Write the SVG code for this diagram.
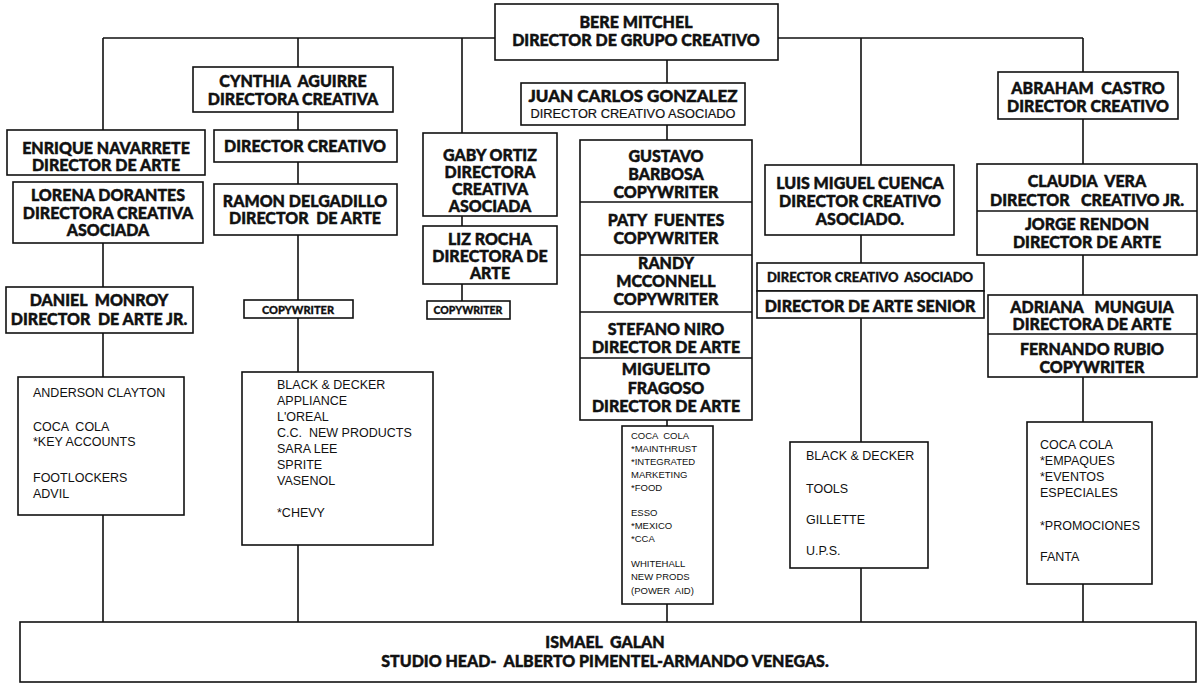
<svg xmlns="http://www.w3.org/2000/svg" width="1200" height="686" viewBox="0 0 1200 686" xml:space="preserve">
<style>
.b{fill:#fff;stroke:#111;stroke-width:1.6}
.c{fill:none;stroke:#111;stroke-width:1.6}
.t{font-family:Lato,"Open Sans","Liberation Sans",sans-serif;font-weight:900;font-size:16px;fill:#111;stroke:#111;stroke-width:0.45;text-anchor:middle;dominant-baseline:central;white-space:pre}
.s{font-size:13px}
.n{font-family:"Liberation Sans",Arial,sans-serif;font-size:12.5px;fill:#111;dominant-baseline:central;white-space:pre}
.m{font-size:9.5px}
.cond{font-family:"Liberation Sans",Arial,sans-serif;font-weight:normal;font-size:13px;stroke-width:0.2}
</style>
<rect x="0" y="0" width="1200" height="686" fill="#fff"/>
<g id="connectors">
<path class="c" d="M103,38H495M778,38H1083M103,38V130M298,38V67M462,38V133M861,38V165M1083,38V72"/>
<path class="c" d="M667,60V83M667,125V140M667,420V426M667,604V622"/>
<path class="c" d="M103,243V287M103,333V377M103,515V622"/>
<path class="c" d="M298,112V130M298,162V184M298,235V300M298,318V372M298,545V622"/>
<path class="c" d="M462,216V226M462,284V301"/>
<path class="c" d="M861,235V263M861,318V442M861,568V622"/>
<path class="c" d="M1083,119V164M1083,255V295M1083,377V422M1083,584V622"/>
</g>
<g id="bere"><rect class="b" x="495" y="4" width="283" height="56"/>
<text class="t" x="636" y="21" font-size="14">BERE MITCHEL</text><text class="t" x="636" y="39">DIRECTOR DE GRUPO CREATIVO</text></g>
<g id="juan"><rect class="b" x="521" y="83" width="224" height="42"/>
<text class="t" x="633" y="95" style="font-size:17px">JUAN CARLOS GONZALEZ</text><text class="t cond" x="633" y="113" textLength="205" lengthAdjust="spacingAndGlyphs">DIRECTOR CREATIVO ASOCIADO</text></g>
<g id="cynthia"><rect class="b" x="193" y="67" width="200" height="45"/>
<text class="t" x="293" y="80">CYNTHIA  AGUIRRE</text><text class="t" x="293" y="98">DIRECTORA CREATIVA</text></g>
<g id="enrique"><rect class="b" x="7" y="130" width="198" height="45"/>
<text class="t" x="106" y="147">ENRIQUE NAVARRETE</text><text class="t" x="106" y="164">DIRECTOR DE ARTE</text></g>
<g id="lorena"><rect class="b" x="13" y="182" width="190" height="61"/>
<text class="t" x="108" y="194">LORENA DORANTES</text><text class="t" x="108" y="212">DIRECTORA CREATIVA</text><text class="t" x="108" y="229">ASOCIADA</text></g>
<g id="daniel"><rect class="b" x="6" y="287" width="187" height="46"/>
<text class="t" x="99" y="299">DANIEL  MONROY</text><text class="t" x="99" y="318">DIRECTOR  DE ARTE JR.</text></g>
<g id="acc1"><rect class="b" x="18" y="377" width="166" height="138"/>
<text class="n" x="33" y="393">ANDERSON CLAYTON</text><text class="n" x="33" y="427">COCA  COLA</text><text class="n" x="33" y="442">*KEY ACCOUNTS</text><text class="n" x="33" y="478">FOOTLOCKERS</text><text class="n" x="33" y="494">ADVIL</text></g>
<g id="dircreativo"><rect class="b" x="214" y="130" width="183" height="32"/>
<text class="t" x="305" y="145">DIRECTOR CREATIVO</text></g>
<g id="ramon"><rect class="b" x="214" y="184" width="183" height="51"/>
<text class="t" x="305" y="200">RAMON DELGADILLO</text><text class="t" x="305" y="217">DIRECTOR  DE ARTE</text></g>
<g id="copy2"><rect class="b" x="244" y="300" width="109" height="18"/>
<text class="t" x="298" y="309" style="font-size:11px;stroke-width:0.3">COPYWRITER</text></g>
<g id="acc2"><rect class="b" x="242" y="372" width="191" height="173"/>
<text class="n" x="277" y="385">BLACK &amp; DECKER</text><text class="n" x="277" y="401">APPLIANCE</text><text class="n" x="277" y="417">L'OREAL</text><text class="n" x="277" y="433">C.C.  NEW PRODUCTS</text><text class="n" x="277" y="449">SARA LEE</text><text class="n" x="277" y="465">SPRITE</text><text class="n" x="277" y="481">VASENOL</text><text class="n" x="277" y="513">*CHEVY</text></g>
<g id="gaby"><rect class="b" x="423" y="133" width="134" height="83"/>
<text class="t" x="490" y="154">GABY ORTIZ</text><text class="t" x="490" y="171">DIRECTORA</text><text class="t" x="490" y="188">CREATIVA</text><text class="t" x="490" y="205">ASOCIADA</text></g>
<g id="liz"><rect class="b" x="423" y="226" width="134" height="58"/>
<text class="t" x="490" y="238">LIZ ROCHA</text><text class="t" x="490" y="255">DIRECTORA DE</text><text class="t" x="490" y="272">ARTE</text></g>
<g id="copy3"><rect class="b" x="427" y="301" width="83" height="18"/>
<text class="t" x="468" y="310" style="font-size:10.5px;stroke-width:0.3">COPYWRITER</text></g>
<g id="stack"><rect class="b" x="580" y="140" width="172" height="280"/>
<path class="c" d="M580,202H752M580,255H752M580,312H752M580,358H752"/>
<text class="t" x="666" y="155">GUSTAVO</text><text class="t" x="666" y="173">BARBOSA</text><text class="t" x="666" y="191">COPYWRITER</text>
<text class="t" x="666" y="219">PATY  FUENTES</text><text class="t" x="666" y="237">COPYWRITER</text>
<text class="t" x="666" y="262">RANDY</text><text class="t" x="666" y="280">MCCONNELL</text><text class="t" x="666" y="298">COPYWRITER</text>
<text class="t" x="666" y="328">STEFANO NIRO</text><text class="t" x="666" y="346">DIRECTOR DE ARTE</text>
<text class="t" x="666" y="368">MIGUELITO</text><text class="t" x="666" y="387">FRAGOSO</text><text class="t" x="666" y="405">DIRECTOR DE ARTE</text></g>
<g id="acc4"><rect class="b" x="622" y="426" width="91" height="178"/>
<text class="n m" x="631" y="435">COCA  COLA</text><text class="n m" x="631" y="448">*MAINTHRUST</text><text class="n m" x="631" y="461">*INTEGRATED</text><text class="n m" x="631" y="474">MARKETING</text><text class="n m" x="631" y="487">*FOOD</text>
<text class="n m" x="631" y="512">ESSO</text><text class="n m" x="631" y="525">*MEXICO</text><text class="n m" x="631" y="538">*CCA</text>
<text class="n m" x="631" y="563">WHITEHALL</text><text class="n m" x="631" y="576">NEW PRODS</text><text class="n m" x="631" y="590">(POWER  AID)</text></g>
<g id="luis"><rect class="b" x="765" y="165" width="189" height="70"/>
<text class="t" x="860" y="182">LUIS MIGUEL CUENCA</text><text class="t" x="860" y="200">DIRECTOR CREATIVO</text><text class="t" x="860" y="218">ASOCIADO.</text></g>
<g id="dca"><rect class="b" x="757" y="263" width="227" height="28"/>
<text class="t s" x="870" y="277" style="stroke-width:0.35">DIRECTOR CREATIVO  ASOCIADO</text></g>
<g id="das"><rect class="b" x="757" y="291" width="227" height="27"/>
<text class="t" x="870" y="305">DIRECTOR DE ARTE SENIOR</text></g>
<g id="acc5"><rect class="b" x="790" y="442" width="138" height="126"/>
<text class="n" x="806" y="456">BLACK &amp; DECKER</text><text class="n" x="806" y="489">TOOLS</text><text class="n" x="806" y="520">GILLETTE</text><text class="n" x="806" y="551">U.P.S.</text></g>
<g id="abraham"><rect class="b" x="998" y="72" width="180" height="47"/>
<text class="t" x="1088" y="87">ABRAHAM  CASTRO</text><text class="t" x="1088" y="105">DIRECTOR CREATIVO</text></g>
<g id="claudia"><rect class="b" x="977" y="164" width="220" height="91"/>
<path class="c" d="M977,211H1197"/>
<text class="t" x="1087" y="180">CLAUDIA  VERA</text><text class="t" x="1087" y="199">DIRECTOR   CREATIVO JR.</text>
<text class="t" x="1087" y="223">JORGE RENDON</text><text class="t" x="1087" y="241">DIRECTOR DE ARTE</text></g>
<g id="adriana"><rect class="b" x="988" y="295" width="209" height="82"/>
<path class="c" d="M988,334H1197"/>
<text class="t" x="1092" y="306">ADRIANA   MUNGUIA</text><text class="t" x="1092" y="323">DIRECTORA DE ARTE</text>
<text class="t" x="1092" y="348">FERNANDO RUBIO</text><text class="t" x="1092" y="366">COPYWRITER</text></g>
<g id="acc6"><rect class="b" x="1027" y="422" width="125" height="162"/>
<text class="n" x="1040" y="445">COCA COLA</text><text class="n" x="1040" y="461">*EMPAQUES</text><text class="n" x="1040" y="477">*EVENTOS</text><text class="n" x="1040" y="493">ESPECIALES</text><text class="n" x="1040" y="526">*PROMOCIONES</text><text class="n" x="1040" y="557">FANTA</text></g>
<g id="studio"><rect class="b" x="20" y="622" width="1176" height="60"/>
<text class="t" x="605" y="641">ISMAEL  GALAN</text><text class="t" x="605" y="660">STUDIO HEAD-  ALBERTO PIMENTEL-ARMANDO VENEGAS.</text></g>
</svg>
